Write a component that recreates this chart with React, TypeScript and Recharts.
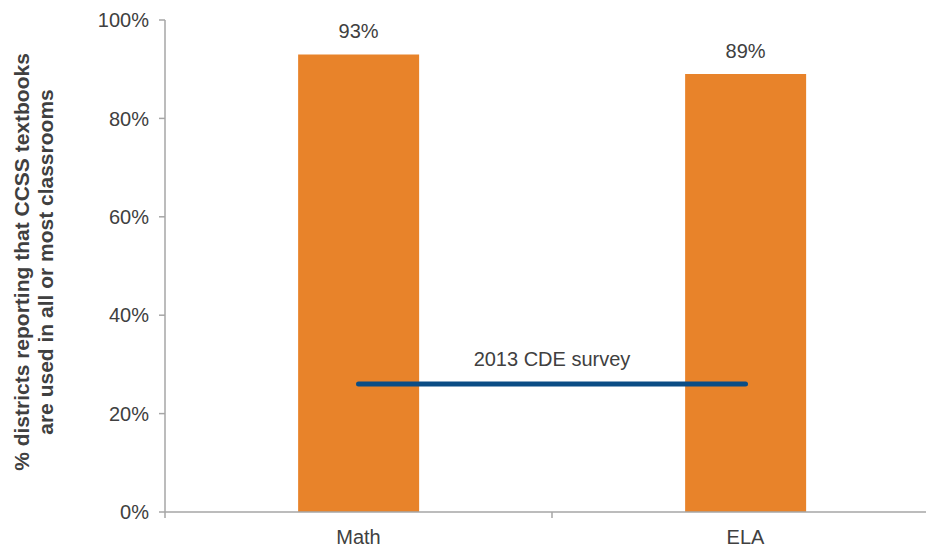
import {
  ComposedChart,
  Bar,
  Line,
  XAxis,
  YAxis,
  LabelList,
  ReferenceLine,
  Label,
} from "recharts";

const subjects = ["Math", "ELA"];
const districtShare = [93, 89];
const cdeSurvey = [26, 26];
const yTicks = [0, 20, 40, 60, 80, 100];
const surveyLabel = "2013 CDE survey";
const yTitle = ["% districts reporting that CCSS textbooks", "are used in all or most classrooms"];

const data = subjects.map((name, i) => ({
  name,
  share: districtShare[i],
  survey: cdeSurvey[i],
}));

const FONT = "'Liberation Sans', Arial, sans-serif";
const AXIS = "#a6a6a6";
const TEXT = "#404040";

function CategoryTick(props: any) {
  const { x, y, payload, index, visibleTicksCount } = props;
  const half = payload?.offset ?? 0;
  const isLast = index === visibleTicksCount - 1;
  return (
    <g>
      <line x1={x - half} x2={x - half} y1={y} y2={y + 6} stroke={AXIS} strokeWidth={1.5} />
      {isLast && (
        <line x1={x + half} x2={x + half} y1={y} y2={y + 6} stroke={AXIS} strokeWidth={1.5} />
      )}
      <text x={x} y={y + 32} textAnchor="middle" fill={TEXT} fontSize={20} fontFamily={FONT}>
        {payload.value}
      </text>
    </g>
  );
}

// two-line rotated title, baselines placed like the original
function YTitle(props: any) {
  const { viewBox } = props;
  const cy = viewBox.y + viewBox.height / 2 - 4;
  return (
    <g>
      {yTitle.map((line, i) => {
        const x = 29 + i * 24;
        return (
          <text
            key={i}
            x={x}
            y={cy}
            transform={`rotate(-90, ${x}, ${cy})`}
            textAnchor="middle"
            fill={TEXT}
            fontSize={21}
            fontWeight="bold"
            fontFamily={FONT}
          >
            {line}
          </text>
        );
      })}
    </g>
  );
}

export default function App() {
  return (
    <div
      style={{
        position: "absolute",
        left: 0,
        top: 0,
        width: 926,
        height: 550,
        overflow: "hidden",
        background: "#fff",
      }}
    >
      <ComposedChart
        width={939}
        height={550}
        data={data}
        margin={{ top: 20, right: 0, bottom: 0, left: 0 }}
        barCategoryGap="34.4%"
      >
        <XAxis
          dataKey="name"
          height={38}
          tickSize={0}
          tickMargin={0}
          tickLine={false}
          axisLine={{ stroke: AXIS, strokeWidth: 1.5 }}
          tick={<CategoryTick />}
          interval={0}
        />
        <YAxis
          width={165}
          domain={[0, 100]}
          ticks={yTicks}
          tickFormatter={(v: number) => `${v}%`}
          tickSize={6}
          tickMargin={10}
          axisLine={{ stroke: AXIS, strokeWidth: 1.5 }}
          tickLine={{ stroke: AXIS, strokeWidth: 1.5 }}
          tick={{ fill: TEXT, fontSize: 20, fontFamily: FONT }}
        >
          <Label content={<YTitle />} />
        </YAxis>
        <Bar dataKey="share" fill="#e8832a" isAnimationActive={false}>
          <LabelList
            dataKey="share"
            position="top"
            offset={16}
            formatter={(v: any) => `${v}%`}
            fill={TEXT}
            fontSize={20}
            fontFamily={FONT}
          />
        </Bar>
        <Line
          dataKey="survey"
          type="linear"
          stroke="#0b4d85"
          strokeWidth={5}
          strokeLinecap="round"
          dot={false}
          activeDot={false}
          isAnimationActive={false}
        />
        <ReferenceLine
          segment={[
            { x: subjects[0], y: cdeSurvey[0] },
            { x: subjects[1], y: cdeSurvey[1] },
          ]}
          stroke="none"
          label={{
            value: surveyLabel,
            position: "top",
            offset: 18,
            fill: TEXT,
            fontSize: 20,
            fontFamily: FONT,
          }}
        />
      </ComposedChart>
    </div>
  );
}
